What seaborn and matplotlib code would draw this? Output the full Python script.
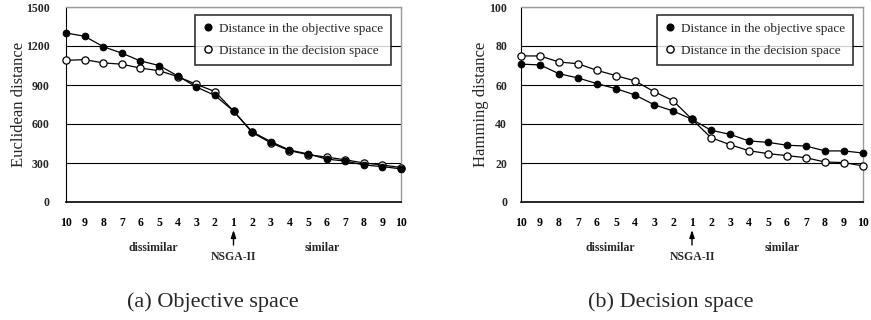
import numpy as np
import pandas as pd
import matplotlib
matplotlib.use('Agg')
import matplotlib.pyplot as plt
import matplotlib.transforms as mtransforms
from matplotlib.lines import Line2D
import seaborn as sns

# x positions: 10 .. 2 (dissimilar), 1 = NSGA-II, 2 .. 10 (similar)
tick_labels = ['10', '9', '8', '7', '6', '5', '4', '3', '2', '1',
               '2', '3', '4', '5', '6', '7', '8', '9', '10']

# (a) Euclidean distance
eucl_obj = [1300, 1275, 1195, 1145, 1085, 1050, 970, 885, 820, 700,
            540, 465, 400, 370, 330, 315, 285, 272, 255]
eucl_dec = [1090, 1095, 1070, 1060, 1030, 1010, 965, 905, 850, 700,
            535, 455, 395, 365, 345, 325, 300, 285, 265]

# (b) Hamming distance
hamm_obj = [70.7, 70.3, 65.8, 63.6, 60.7, 58.1, 54.9, 49.9, 46.7, 42.4,
            36.8, 34.7, 31.3, 30.6, 29.1, 28.7, 26.2, 26.2, 25.1]
hamm_dec = [74.9, 74.9, 71.8, 70.9, 67.5, 64.8, 62.1, 56.6, 52.0, 42.4,
            33.0, 29.4, 26.3, 24.8, 23.8, 22.7, 20.5, 20.2, 18.5]

series_names = ['Distance in the objective space', 'Distance in the decision space']

sns.set_style('white')
plt.rcParams['font.family'] = ['Liberation Serif', 'DejaVu Serif']

fig = plt.figure(figsize=(8.71, 3.2), dpi=100)
ax1 = fig.add_axes([66 / 871, 118 / 320, 335 / 871, 195 / 320])
ax2 = fig.add_axes([521 / 871, 118 / 320, 342 / 871, 195 / 320])


def draw_panel(ax, obj, dec, ymax, ystep, ylabel, ypad, lpad):
    idx = np.arange(len(tick_labels))
    df = pd.DataFrame({'pos': np.concatenate([idx, idx]),
                       'dist': obj + dec,
                       'series': [series_names[0]] * len(obj) + [series_names[1]] * len(dec)})
    # objective space: filled circles
    sns.lineplot(data=df[df['series'] == series_names[0]], x='pos', y='dist',
                 color='black', lw=0.9, marker='o', markersize=4.8,
                 markerfacecolor='black', markeredgecolor='black',
                 clip_on=False, zorder=4, ax=ax)
    # decision space: open circles
    sns.lineplot(data=df[df['series'] == series_names[1]], x='pos', y='dist',
                 color='black', lw=0.9, marker='o', markersize=5.2,
                 markerfacecolor='white', markeredgecolor='black', markeredgewidth=0.9,
                 clip_on=False, zorder=3, ax=ax)

    ax.set_xlim(0, len(tick_labels) - 1)
    ax.set_ylim(0, ymax)
    ax.set_yticks(np.arange(0, ymax + 1, ystep))
    ax.set_xticks(idx)
    ax.set_xticklabels(tick_labels, fontsize=8.5, fontweight='bold')
    for lab in ax.get_yticklabels():
        lab.set_fontsize(8.5)
        lab.set_fontweight('bold')
    ax.tick_params(axis='x', direction='in', length=3, width=0.8, pad=11, colors='black')
    ax.tick_params(axis='y', length=0, pad=ypad)
    ax.set_xlabel('')
    ax.set_ylabel(ylabel, fontsize=12, labelpad=lpad)

    ax.yaxis.grid(True, color='black', lw=0.8)
    ax.xaxis.grid(False)
    ax.set_axisbelow(True)
    for side in ['top', 'right']:
        ax.spines[side].set_color('#9a9a9a')
        ax.spines[side].set_linewidth(1.0)
    ax.spines['left'].set_color('black')
    ax.spines['bottom'].set_color('black')
    ax.spines['bottom'].set_linewidth(1.2)

    handles = [Line2D([], [], ls='none', marker='o', markersize=4.8,
                      mfc='black', mec='black'),
               Line2D([], [], ls='none', marker='o', markersize=5.2,
                      mfc='white', mec='black')]
    leg = ax.legend(handles, series_names, loc='upper right',
                    bbox_to_anchor=(0.97, 0.96), fontsize=9.5, frameon=True,
                    fancybox=False, edgecolor='black', handlelength=0.8,
                    handletextpad=0.4, labelspacing=0.75, borderpad=0.6,
                    borderaxespad=0)
    leg.get_frame().set_linewidth(1.2)
    leg.set_zorder(6)

    # labels under the axis
    base = ax.get_xaxis_transform()
    t_lab = mtransforms.offset_copy(base, fig=fig, x=0, y=-46 * 0.72, units='points')
    t_nsga = mtransforms.offset_copy(base, fig=fig, x=0, y=-55 * 0.72, units='points')
    t_tip = mtransforms.offset_copy(base, fig=fig, x=0, y=-28 * 0.72, units='points')
    ax.text(4.7, 0, 'dissimilar', transform=t_lab, ha='center', va='center',
            fontsize=8.5, fontweight='bold')
    ax.text(13.75, 0, 'similar', transform=t_lab, ha='center', va='center',
            fontsize=8.5, fontweight='bold')
    ax.text(9, 0, 'NSGA-II', transform=t_nsga, ha='center', va='center',
            fontsize=8.5, fontweight='bold')
    ax.annotate('', xy=(9, 0), xycoords=t_tip, xytext=(0, -15 * 0.72),
                textcoords='offset points',
                arrowprops=dict(arrowstyle='-|>,head_length=0.45,head_width=0.15',
                                color='black', lw=1.0, shrinkA=0, shrinkB=0))


draw_panel(ax1, eucl_obj, eucl_dec, 1500, 300, 'Euclidean distance', 12, -1)
draw_panel(ax2, hamm_obj, hamm_dec, 100, 20, 'Hamming distance', 10, 0)

fig.text(213 / 871, 1 - 302 / 320, '(a) Objective space', ha='center', va='center', fontsize=16)
fig.text(671 / 871, 1 - 302 / 320, '(b) Decision space', ha='center', va='center', fontsize=16)

fig.savefig('out.png', dpi=100)
